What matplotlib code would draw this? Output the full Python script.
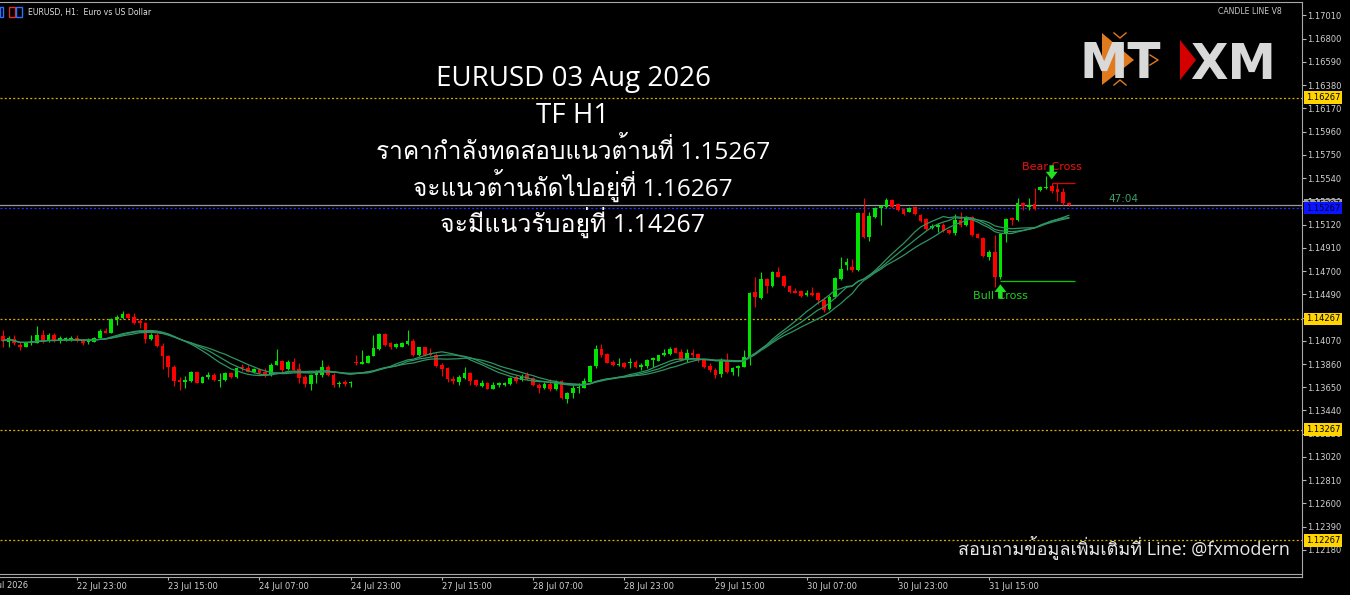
import numpy as np
import pandas as pd
import matplotlib
matplotlib.use('Agg')
import matplotlib.pyplot as plt
import matplotlib.transforms as mtransforms
from matplotlib import font_manager, ft2font
from matplotlib.patches import Polygon, Rectangle

# EURUSD H1 candles (bar 0 = 22 Jul 10:00)
opens = [1.14113, 1.14062, 1.14089, 1.14029, 1.14017, 1.14047, 1.14053, 1.14125, 1.14071, 1.14125,
         1.14065, 1.14077, 1.14083, 1.14098, 1.14077, 1.14059, 1.14062, 1.14095, 1.14161, 1.14143,
         1.14263, 1.14272, 1.14312, 1.14281, 1.14251, 1.14233, 1.14083, 1.14122, 1.14023, 1.13932,
         1.13836, 1.13716, 1.13697, 1.13707, 1.13788, 1.13691, 1.13740, 1.13761, 1.13703, 1.13713,
         1.13779, 1.13743, 1.13836, 1.13827, 1.13788, 1.13812, 1.13791, 1.13761, 1.13852, 1.13888,
         1.13813, 1.13882, 1.13813, 1.13740, 1.13680, 1.13761, 1.13761, 1.13837, 1.13761, 1.13677,
         1.13701, 1.13686, 1.13882, 1.13864, 1.13873, 1.13933, 1.13993, 1.14132, 1.14047, 1.14017,
         1.14017, 1.14041, 1.14068, 1.13942, 1.14011, 1.13957, 1.13942, 1.13852, 1.13822, 1.13725,
         1.13701, 1.13731, 1.13782, 1.13716, 1.13665, 1.13692, 1.13638, 1.13668, 1.13671, 1.13677,
         1.13740, 1.13716, 1.13758, 1.13731, 1.13671, 1.13647, 1.13677, 1.13632, 1.13707, 1.13542,
         1.13596, 1.13641, 1.13647, 1.13701, 1.13843, 1.13993, 1.13948, 1.13882, 1.13852, 1.13867,
         1.13867, 1.13882, 1.13837, 1.13843, 1.13897, 1.13891, 1.13942, 1.13951, 1.14002, 1.13969,
         1.13897, 1.13960, 1.13948, 1.13897, 1.13843, 1.13806, 1.13770, 1.13897, 1.13791, 1.13821,
         1.13837, 1.13927, 1.14508, 1.14454, 1.14625, 1.14565, 1.14694, 1.14658, 1.14568, 1.14523,
         1.14520, 1.14484, 1.14499, 1.14497, 1.14440, 1.14358, 1.14469, 1.14628, 1.14755, 1.14740,
         1.14710, 1.15221, 1.15011, 1.15191, 1.15266, 1.15282, 1.15342, 1.15303, 1.15257, 1.15236,
         1.15282, 1.15206, 1.15170, 1.15086, 1.15101, 1.15116, 1.15071, 1.15041, 1.15158, 1.15116,
         1.15191, 1.15038, 1.15001, 1.14830, 1.14869, 1.14649, 1.15035, 1.15176, 1.15161, 1.15318,
         1.15282, 1.15303, 1.15432, 1.15447, 1.15471, 1.15438, 1.15411, 1.15312]
highs = [1.14167, 1.14113, 1.14122, 1.14062, 1.14062, 1.14122, 1.14203, 1.14167, 1.14137, 1.14137,
         1.14113, 1.14107, 1.14113, 1.14122, 1.14083, 1.14092, 1.14107, 1.14173, 1.14182, 1.14272,
         1.14303, 1.14342, 1.14324, 1.14318, 1.14263, 1.14242, 1.14137, 1.14137, 1.14053, 1.13941,
         1.13851, 1.13746, 1.13752, 1.13794, 1.13794, 1.13752, 1.13791, 1.13776, 1.13782, 1.13788,
         1.13788, 1.13830, 1.13857, 1.13851, 1.13821, 1.13827, 1.13821, 1.13867, 1.13993, 1.13897,
         1.13897, 1.13912, 1.13873, 1.13761, 1.13770, 1.13807, 1.13897, 1.13852, 1.13776, 1.13707,
         1.13716, 1.13704, 1.13942, 1.13987, 1.13942, 1.14123, 1.14138, 1.14138, 1.14062, 1.14047,
         1.14062, 1.14168, 1.14083, 1.14017, 1.14017, 1.14002, 1.13957, 1.13867, 1.13837, 1.13752,
         1.13761, 1.13837, 1.13791, 1.13722, 1.13716, 1.13701, 1.13701, 1.13701, 1.13698, 1.13740,
         1.13761, 1.13767, 1.13791, 1.13740, 1.13686, 1.13701, 1.13722, 1.13716, 1.13716, 1.13611,
         1.13671, 1.13686, 1.13731, 1.13852, 1.14032, 1.14041, 1.13963, 1.13897, 1.13912, 1.13882,
         1.13912, 1.13897, 1.13867, 1.13903, 1.13927, 1.13945, 1.13993, 1.14011, 1.14011, 1.13993,
         1.13993, 1.13993, 1.13957, 1.13903, 1.13867, 1.13821, 1.13912, 1.13957, 1.13837, 1.13852,
         1.13987, 1.14514, 1.14649, 1.14694, 1.14634, 1.14700, 1.14733, 1.14664, 1.14574, 1.14544,
         1.14526, 1.14529, 1.14553, 1.14508, 1.14469, 1.14484, 1.14649, 1.14830, 1.14815, 1.14809,
         1.15230, 1.15363, 1.15236, 1.15282, 1.15297, 1.15357, 1.15351, 1.15312, 1.15266, 1.15282,
         1.15291, 1.15212, 1.15176, 1.15122, 1.15131, 1.15131, 1.15080, 1.15212, 1.15236, 1.15200,
         1.15200, 1.15047, 1.15011, 1.14890, 1.15026, 1.15044, 1.15176, 1.15191, 1.15363, 1.15327,
         1.15357, 1.15447, 1.15471, 1.15561, 1.15492, 1.15492, 1.15447, 1.15327]
lows = [1.14017, 1.14017, 1.14032, 1.13987, 1.14011, 1.14032, 1.14047, 1.14053, 1.14062, 1.14062,
        1.14053, 1.14071, 1.14071, 1.14062, 1.14032, 1.14041, 1.14059, 1.14089, 1.14137, 1.14137,
        1.14212, 1.14263, 1.14263, 1.14221, 1.14182, 1.14047, 1.14077, 1.14017, 1.13812, 1.13746,
        1.13661, 1.13625, 1.13640, 1.13700, 1.13685, 1.13685, 1.13722, 1.13710, 1.13649, 1.13707,
        1.13737, 1.13737, 1.13800, 1.13785, 1.13782, 1.13770, 1.13746, 1.13752, 1.13849, 1.13791,
        1.13807, 1.13801, 1.13692, 1.13656, 1.13626, 1.13686, 1.13746, 1.13752, 1.13656, 1.13656,
        1.13662, 1.13656, 1.13852, 1.13858, 1.13867, 1.13930, 1.13987, 1.14026, 1.13993, 1.14008,
        1.14011, 1.14032, 1.13936, 1.13936, 1.13936, 1.13933, 1.13837, 1.13752, 1.13701, 1.13680,
        1.13671, 1.13722, 1.13671, 1.13662, 1.13656, 1.13632, 1.13632, 1.13656, 1.13662, 1.13671,
        1.13686, 1.13710, 1.13716, 1.13665, 1.13602, 1.13632, 1.13620, 1.13626, 1.13542, 1.13511,
        1.13551, 1.13596, 1.13641, 1.13695, 1.13821, 1.13927, 1.13867, 1.13843, 1.13843, 1.13828,
        1.13821, 1.13821, 1.13806, 1.13821, 1.13837, 1.13888, 1.13933, 1.13945, 1.13957, 1.13891,
        1.13882, 1.13927, 1.13882, 1.13828, 1.13791, 1.13731, 1.13746, 1.13782, 1.13761, 1.13752,
        1.13831, 1.13852, 1.14378, 1.14445, 1.14499, 1.14559, 1.14643, 1.14559, 1.14499, 1.14499,
        1.14469, 1.14478, 1.14478, 1.14405, 1.14334, 1.14349, 1.14460, 1.14619, 1.14710, 1.14695,
        1.14701, 1.15001, 1.14971, 1.15182, 1.15116, 1.15272, 1.15272, 1.15242, 1.15206, 1.15230,
        1.15206, 1.15146, 1.15071, 1.15080, 1.15050, 1.15050, 1.15032, 1.15026, 1.15101, 1.15110,
        1.15020, 1.14995, 1.14830, 1.14800, 1.14560, 1.14628, 1.14965, 1.15116, 1.15152, 1.15251,
        1.15251, 1.15251, 1.15423, 1.15438, 1.15402, 1.15333, 1.15297, 1.15291]
closes = [1.14071, 1.14092, 1.14047, 1.14011, 1.14053, 1.14065, 1.14122, 1.14071, 1.14122, 1.14071,
          1.14092, 1.14098, 1.14098, 1.14077, 1.14053, 1.14077, 1.14098, 1.14161, 1.14143, 1.14263,
          1.14281, 1.14312, 1.14275, 1.14233, 1.14227, 1.14083, 1.14122, 1.14023, 1.13932, 1.13830,
          1.13707, 1.13697, 1.13716, 1.13788, 1.13691, 1.13746, 1.13764, 1.13716, 1.13716, 1.13782,
          1.13743, 1.13824, 1.13821, 1.13791, 1.13812, 1.13776, 1.13752, 1.13852, 1.13891, 1.13807,
          1.13882, 1.13807, 1.13731, 1.13680, 1.13761, 1.13782, 1.13837, 1.13761, 1.13671, 1.13692,
          1.13677, 1.13698, 1.13867, 1.13882, 1.13933, 1.14002, 1.14132, 1.14032, 1.14017, 1.14038,
          1.14053, 1.14068, 1.13942, 1.14011, 1.13942, 1.13942, 1.13843, 1.13816, 1.13722, 1.13707,
          1.13740, 1.13782, 1.13707, 1.13671, 1.13692, 1.13638, 1.13671, 1.13692, 1.13686, 1.13731,
          1.13707, 1.13755, 1.13728, 1.13671, 1.13641, 1.13677, 1.13632, 1.13701, 1.13551, 1.13596,
          1.13641, 1.13656, 1.13707, 1.13843, 1.13993, 1.13942, 1.13873, 1.13852, 1.13864, 1.13831,
          1.13882, 1.13831, 1.13852, 1.13897, 1.13912, 1.13939, 1.13957, 1.13999, 1.13963, 1.13897,
          1.13963, 1.13939, 1.13897, 1.13837, 1.13806, 1.13761, 1.13897, 1.13791, 1.13821, 1.13843,
          1.13927, 1.14505, 1.14463, 1.14628, 1.14565, 1.14694, 1.14649, 1.14565, 1.14514, 1.14505,
          1.14478, 1.14499, 1.14484, 1.14440, 1.14349, 1.14469, 1.14634, 1.14719, 1.14779, 1.14710,
          1.15221, 1.15011, 1.15197, 1.15266, 1.15291, 1.15342, 1.15282, 1.15251, 1.15212, 1.15272,
          1.15212, 1.15152, 1.15080, 1.15110, 1.15116, 1.15062, 1.15041, 1.15161, 1.15116, 1.15191,
          1.15026, 1.15001, 1.14836, 1.14869, 1.14649, 1.15035, 1.15167, 1.15161, 1.15318, 1.15288,
          1.15297, 1.15260, 1.15462, 1.15462, 1.15423, 1.15411, 1.15312, 1.15297]

time_labels = ['22 Jul 23:00', '23 Jul 15:00', '24 Jul 07:00', '24 Jul 23:00', '27 Jul 15:00',
               '28 Jul 07:00', '28 Jul 23:00', '29 Jul 15:00', '30 Jul 07:00', '30 Jul 23:00',
               '31 Jul 15:00']
time_label_bars = [13, 29, 45, 61, 77, 93, 109, 125, 141, 157, 173]
first_date = '22 Jul 2026'

price_ticks = [1.17010, 1.16800, 1.16590, 1.16380, 1.16170, 1.15960, 1.15750, 1.15540, 1.15330,
               1.15120, 1.14910, 1.14700, 1.14490, 1.14280, 1.14070, 1.13860, 1.13650, 1.13440,
               1.13230, 1.13020, 1.12810, 1.12600, 1.12390, 1.12180]
level_prices = [1.16267, 1.14267, 1.13267, 1.12267]
test_price = 1.15267
ma_periods = [16, 18, 21]

bear_bar, bear_level = 184, 1.15492
bull_bar, bull_level = 175, 1.14610
timer = '47:04'

title_lines = ['EURUSD 03 Aug 2026', 'TF H1',
               'ราคากำลังทดสอบแนวต้านที่ 1.15267',
               'จะแนวต้านถัดไปอยู่ที่ 1.16267',
               'จะมีแนวรับอยู่ที่ 1.14267']
footer = 'สอบถามข้อมูลเพิ่มเติมที่ Line: @fxmodern'


def thai_font():
    for f in font_manager.fontManager.ttflist:
        try:
            if 0x0E01 in ft2font.FT2Font(f.fname).get_charmap():
                return f.name
        except Exception:
            continue
    return None


thai = thai_font()
text_family = ['Open Sans'] + ([thai] if thai else []) + ['DejaVu Sans']

W, H = 1350, 595
fig = plt.figure(figsize=(W / 100, H / 100), dpi=100, facecolor='black')
ax = fig.add_axes([0, 1 - 577 / H, 1302 / W, 575 / H])
ax.set_facecolor('black')

# pixel x = 2.9 + 5.7 * bar ; pixel y = 15.3 + (1.17010 - price) * 11070
ax.set_xlim(-2.9 / 5.7, (1302 - 2.9) / 5.7)
ax.set_ylim(1.17010 - 561.7 / 11070, 1.17010 + 13.3 / 11070)

idx = np.arange(len(closes))
o, hi, lo, c = map(np.array, (opens, highs, lows, closes))
col = np.where(c >= o, '#00e400', '#ff0000')
ax.vlines(idx, lo, hi, colors=col, lw=0.8, zorder=2)
ax.bar(idx, np.maximum(np.abs(c - o), 0.00003), bottom=np.minimum(o, c), width=0.66,
       color=col, linewidth=0, zorder=2)

# moving-average ribbon
close_s = pd.Series(closes)
for n in ma_periods:
    ax.plot(idx, close_s.rolling(n, min_periods=1).mean(), color='#2e9463', lw=0.9, zorder=3)

# support / resistance lines
for lv in level_prices:
    ax.axhline(lv, color='#d8aa00', lw=0.9, ls=(0, (1.6, 1.8)), zorder=1)
ax.axhline(test_price, color='#2233ff', lw=0.9, ls=(0, (1.6, 1.8)), zorder=1)
ax.axhline(closes[-1], color='#9a9a9a', lw=0.9, zorder=1)

# cross signals
end = len(closes)
ax.hlines(bear_level, bear_bar, end, color='#e00000', lw=0.9, zorder=4)
ax.hlines(bull_level, bull_bar, end, color='#00cc00', lw=0.9, zorder=4)
ax.text(bear_bar, 1.15640, 'Bear Cross', ha='center', va='center', fontsize=8, color='#ee1111', zorder=5)
ax.text(bull_bar, 1.14470, 'Bull Cross', ha='center', va='center', fontsize=8, color='#1fd01f', zorder=5)
arrow = dict(arrowstyle='simple,head_width=0.85,head_length=0.55,tail_width=0.32',
             mutation_scale=10, shrinkA=0, shrinkB=0, color='#22e022', lw=0)
ax.annotate('', xy=(bear_bar, 1.15528), xytext=(bear_bar, 1.15655), arrowprops=arrow, zorder=6)
ax.annotate('', xy=(bull_bar, 1.14580), xytext=(bull_bar, 1.14450), arrowprops=arrow, zorder=6)
ax.text(196.5, 1.15351, timer, ha='center', va='center', fontsize=7.5, color='#3a9f6e', zorder=5)

# axes look
ax.spines['left'].set_visible(False)
for s in ['top', 'right', 'bottom']:
    ax.spines[s].set_color('#a8a8a8')
    ax.spines[s].set_linewidth(0.8)
fig.add_artist(plt.Line2D([0, 1302 / W], [1 - 573.5 / H] * 2, color='#a8a8a8', lw=0.8))

ax.yaxis.tick_right()
ax.set_yticks(price_ticks)
ax.set_yticklabels([f'{p:.5f}' for p in price_ticks])
ax.tick_params(axis='y', colors='#b8b8b8', labelcolor='#d0d0d0', labelsize=6, length=3, width=0.8, pad=1)
ax.set_xticks(time_label_bars)
ax.set_xticklabels(time_labels, ha='left')
ax.tick_params(axis='x', colors='#b8b8b8', labelcolor='#d0d0d0', labelsize=6, length=2.5, width=0.8, pad=1)
fig.text(-19 / W, 1 - 586 / H, first_date, fontsize=6, color='#d0d0d0', va='center')

# price boxes on the axis
trans = mtransforms.blended_transform_factory(ax.transAxes, ax.transData)
box = dict(boxstyle='square,pad=0.2', ec='none')
for lv in level_prices:
    ax.text(1.003, lv, f'{lv:.5f}', transform=trans, fontsize=6, color='black', va='center',
            bbox=dict(box, fc='#ffd400'), clip_on=False, zorder=10)
ax.text(1.003, closes[-1], f'{closes[-1]:.5f}', transform=trans, fontsize=6, color='black', va='center',
        bbox=dict(box, fc='#a0a0a0'), clip_on=False, zorder=10)
ax.text(1.003, test_price, f'{test_price:.5f}', transform=trans, fontsize=6, color='#000030', va='center',
        bbox=dict(box, fc='#0a14ff'), clip_on=False, zorder=11)

# header
fig.text(28 / W, 1 - 12 / H, 'EURUSD, H1:  Euro vs US Dollar', fontsize=5.6, color='#e0e0e0', va='center')
fig.text(1282 / W, 1 - 12 / H, 'CANDLE LINE V8', fontsize=5.6, color='#c8c8c8', va='center', ha='right')
for x0, w, fc in [(0, 3, '#3070ff'), (9, 6, '#e03030'), (16, 6, '#3070ff')]:
    fig.add_artist(Rectangle((x0 / W, 1 - 17 / H), w / W, 10 / H, transform=fig.transFigure,
                             fc='none', ec=fc, lw=1))

# title block
for line, base, size in zip(title_lines, [86, 123, 159.5, 196, 232], [20, 20, 17.6, 17.6, 17.9]):
    fig.text(573 / W, 1 - base / H, line, ha='center', va='baseline', fontsize=size,
             color='white', family=text_family)
fig.text(1290 / W, 1 - 554 / H, footer, ha='right', va='baseline', fontsize=13,
         color='#e8e8e8', family=text_family)

# logo
def px(points):
    return [(x / W, 1 - y / H) for x, y in points]

fig.text(1080 / W, 1 - 78 / H, 'MT', fontsize=35, weight='bold', color='#d9d9d9',
         va='baseline', family='DejaVu Sans')
fig.add_artist(Polygon(px([(1102, 33), (1102, 85), (1134, 60)]), closed=True,
                       transform=fig.transFigure, fc='#e07a1f', ec='none'))
for pts in [[(1114, 33), (1120, 38), (1126, 33)], [(1150, 55), (1158, 60), (1150, 65)],
            [(1114, 85), (1120, 80), (1126, 85)]]:
    fig.add_artist(plt.Line2D([p[0] / W for p in pts], [1 - p[1] / H for p in pts],
                              color='#e07a1f', lw=1))
fig.text(1190 / W, 1 - 79 / H, 'XM', fontsize=35, weight='bold', color='#d9d9d9',
         va='baseline', family='DejaVu Sans')
fig.add_artist(Polygon(px([(1180, 40), (1180, 80), (1196, 60)]), closed=True,
                       transform=fig.transFigure, fc='#d40000', ec='none'))

fig.savefig('out.png', dpi=100, facecolor='black')
